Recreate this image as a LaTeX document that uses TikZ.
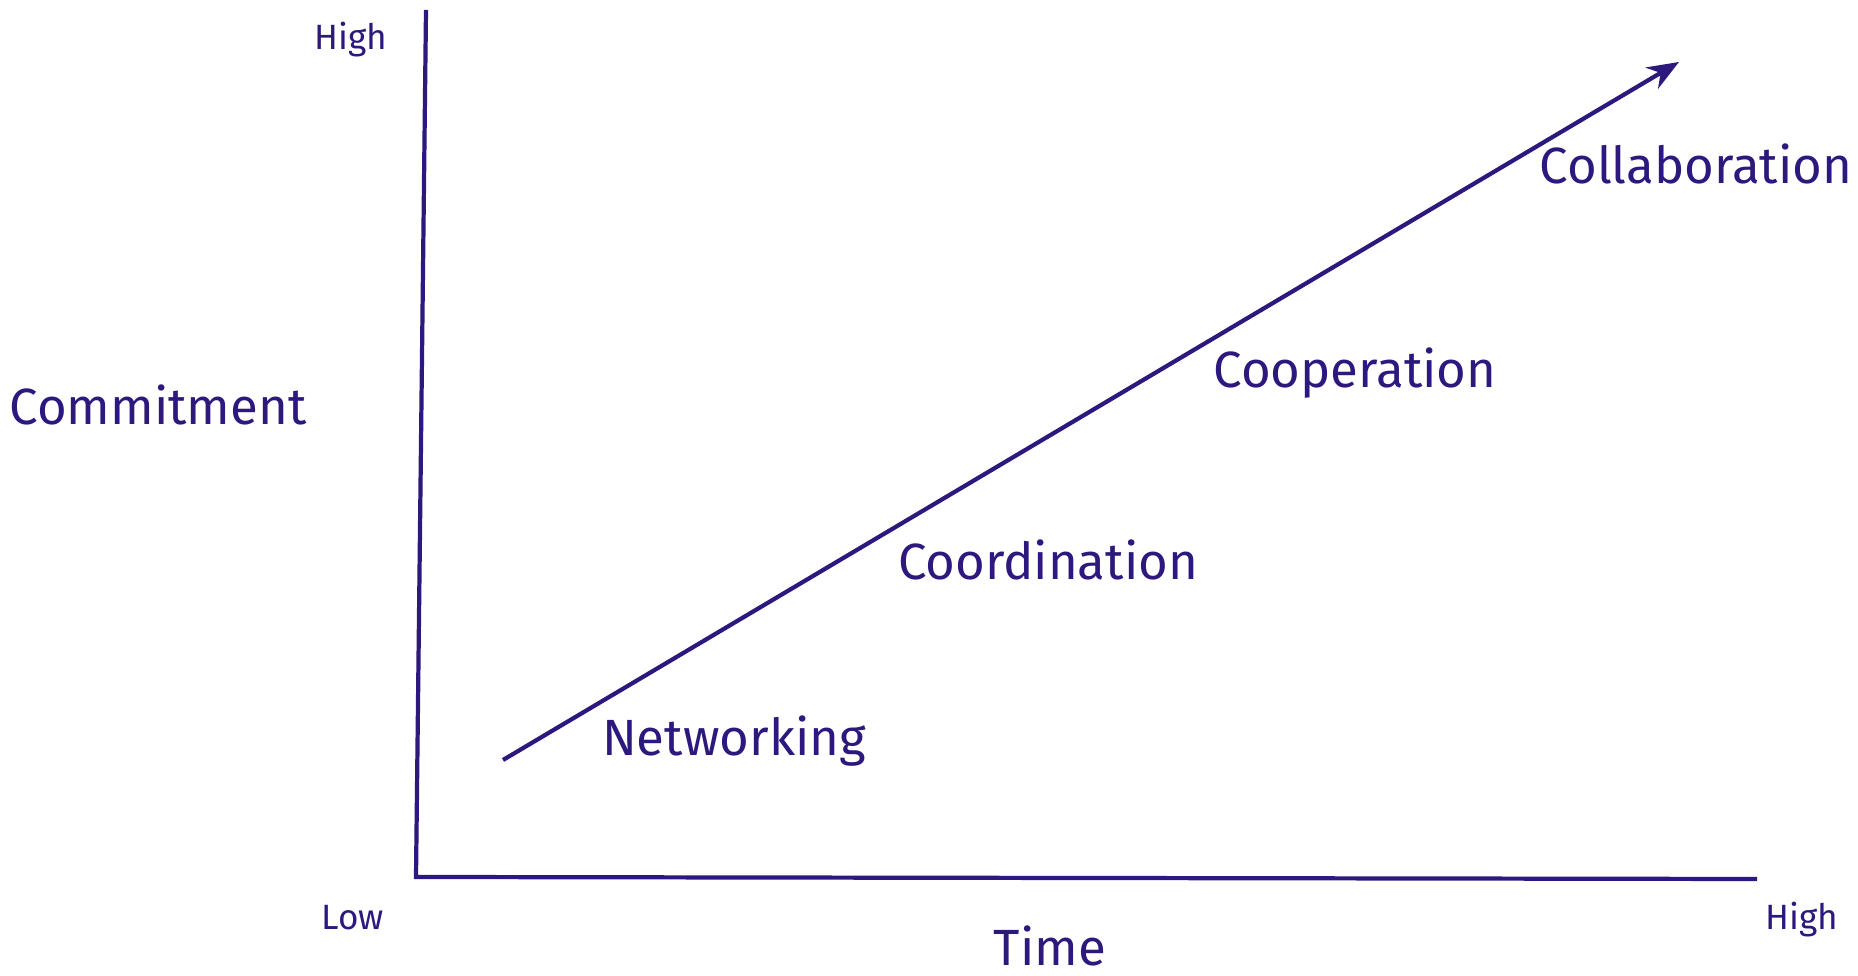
\documentclass[tikz,border=0pt]{standalone}
\usepackage{fontspec}
\setmainfont{Fira Sans}
\usetikzlibrary{arrows.meta}
\definecolor{ink}{RGB}{45,25,125}
\begin{document}
\begin{tikzpicture}[ink,line width=1.2pt,
	small/.style={font=\fontsize{10}{12}\selectfont},
	big/.style={font=\fontsize{14.5}{17}\selectfont}]
	\useasboundingbox (0,0) rectangle (18.58,9.76);
	% axes
	\coordinate (O) at (4.16,0.99);
	\coordinate (ytop) at (4.26,9.66);
	\coordinate (xend) at (17.57,0.97);
	\draw (ytop) -- (O) -- (xend);
	% trend
	\coordinate (start) at (5.03,2.16);
	\coordinate (tip) at (16.79,9.14);
	\draw[-{Stealth[length=9pt,width=7pt]}] (start) -- (tip);
	\node[small] (yhigh) at (3.51,9.36) {High};
	\node[small] (xlow) at (3.53,0.58) {Low};
	\node[small] (xhigh) at (18.02,0.56) {High};
	\node[big] (ylab) at (1.58,5.71) {Commitment};
	\node[big] (xlab) at (10.50,0.3) {Time};
	\node[big] (net) at (7.34,2.35) {Networking};
	\node[big] (coord) at (10.48,4.16) {Coordination};
	\node[big] (coop) at (13.55,6.03) {Cooperation};
	\node[big] (collab) at (16.96,8.12) {Collaboration};
\end{tikzpicture}
\end{document}
